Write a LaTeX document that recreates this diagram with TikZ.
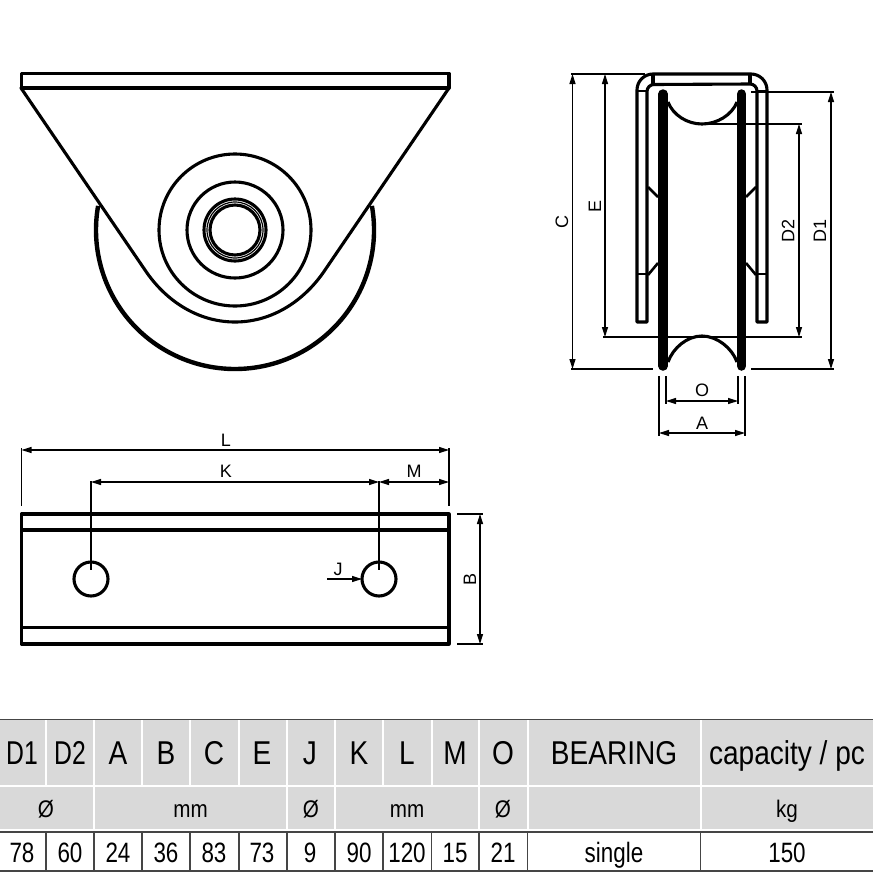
\documentclass[tikz,border=0pt]{standalone}
\usepackage{fontspec}
\setmainfont{Liberation Sans}
\newfontfamily\hdrfont[FakeStretch=0.85]{Liberation Sans}
\newfontfamily\hdrnarrow[FakeStretch=0.75]{Liberation Sans}
\newfontfamily\valfont[FakeStretch=0.8]{Liberation Sans}
\newfontfamily\subfont[FakeStretch=0.86]{Liberation Sans}
\usetikzlibrary{arrows.meta}
\definecolor{cellgray}{HTML}{D9D9D9}
\definecolor{rulegray}{HTML}{454545}
\tikzset{
  part/.style={line width=3.1pt,line join=round},
  thinpart/.style={line width=2.6pt,line join=round},
  tyre/.style={line width=9.5pt,line cap=round},
  dimline/.style={line width=1.2pt,{Triangle[length=10pt,width=6pt]}-{Triangle[length=10pt,width=6pt]}},
  leadline/.style={line width=1.2pt,-{Triangle[length=10pt,width=6pt]}},
  extline/.style={line width=1.2pt},
  dimtext/.style={inner sep=0pt,font=\fontsize{18}{18}\selectfont},
  hdr/.style={anchor=base,inner sep=0pt,font=\hdrfont\fontsize{33}{33}\selectfont},
  hdrn/.style={anchor=base,inner sep=0pt,font=\hdrnarrow\fontsize{33}{33}\selectfont},
  sub/.style={anchor=base,inner sep=0pt,font=\subfont\fontsize{24}{24}\selectfont},
  val/.style={anchor=base,inner sep=0pt,font=\valfont\fontsize{28}{28}\selectfont},
  sep/.style={white,line width=2pt},
  rule/.style={rulegray,line width=1.3pt}
}
\begin{document}
\begin{tikzpicture}[x=1pt,y=-1pt]
\useasboundingbox (0,0) rectangle (873,873);
% ---------- front view
\coordinate (hub) at (235,230);
\draw[line width=4.4pt] ([shift={(-10:139)}]hub) arc[start angle=-10,end angle=190,radius=139];
\filldraw[part,fill=white] (21,88) -- (145,270) .. controls (165,300) and (197,322) .. (235,322)
  .. controls (273,322) and (305,300) .. (325,270) -- (449,88) -- cycle;
\draw[part] (21.5,73.5) rectangle (449,88);
\draw[part] (hub) circle[radius=76];
\draw[part] (hub) circle[radius=48];
\draw[part] (hub) circle[radius=31];
\draw[line width=1.2pt] (hub) circle[radius=28];
\draw[part] (hub) circle[radius=25];
% ---------- side view: bracket
\draw[part] (647,322) -- (637,322) -- (637,90) arc[start angle=180,end angle=270,radius=16] -- (751,74)
  arc[start angle=270,end angle=360,radius=16] -- (767,322) -- (757,322) -- (757,91)
  arc[start angle=0,end angle=-90,radius=7] -- (654,84.5)
  arc[start angle=270,end angle=180,radius=7] -- cycle;
\draw[part] (653,74) -- (653,84.5);
\draw[part] (750,74) -- (750,84.5);
\draw[thinpart] (637,91) -- (647,91);
\draw[thinpart] (757,91) -- (767,91);
\draw[thinpart] (637,274) -- (647,274);
\draw[thinpart] (757,274) -- (767,274);
\draw[thinpart] (648,187) -- (658,197);
\draw[thinpart] (756,187) -- (746,197);
\draw[thinpart] (648,275) -- (658,263);
\draw[thinpart] (756,275) -- (746,263);
% side view: wheel
\draw[part] (668,102) .. controls (673,115) and (687,124) .. (702,124) .. controls (717,124) and (732,115) .. (737,102);
\draw[part] (668,362) .. controls (673,348) and (687,336) .. (702,336) .. controls (717,336) and (732,348) .. (737,362);
\draw[tyre] (663,94) -- (663,366);
\draw[tyre] (741.5,94) -- (741.5,366);
% side view: dimensions
\draw[extline] (571,74) -- (645,74);
\draw[extline] (571,369) -- (653,369);
\draw[extline] (603,337) -- (802,337);
\draw[extline] (751,92) -- (834,92);
\draw[extline] (751,369) -- (834,369);
\draw[extline] (700,124) -- (802,124);
\draw[extline] (666,376) -- (666,404);
\draw[extline] (738,376) -- (738,404);
\draw[extline] (659,376) -- (659,436);
\draw[extline] (745,376) -- (745,436);
\draw[dimline] (572.5,74) -- (572.5,369);
\draw[dimline] (605,74) -- (605,337);
\draw[dimline] (799,124) -- (799,337);
\draw[dimline] (831,92) -- (831,369);
\draw[dimline] (666,401) -- (738,401);
\draw[dimline] (659,433) -- (745,433);
\node[dimtext,rotate=90] (lblC) at (562,222) {C};
\node[dimtext,rotate=90] (lblE) at (595,206) {E};
\node[dimtext,rotate=90] (lblDtwo) at (788,231) {D2};
\node[dimtext,rotate=90] (lblDone) at (820,231) {D1};
\node[dimtext] (lblO) at (702,390) {O};
\node[dimtext] (lblA) at (702,423) {A};
% ---------- plan view
\draw[part] (21.5,514) rectangle (449,644);
\draw[part] (21.5,530) -- (449,530);
\draw[part] (21.5,627.5) -- (449,627.5);
\draw[part] (91,579) circle[radius=17];
\draw[part] (379,579) circle[radius=17];
\draw[extline] (21.5,448) -- (21.5,506);
\draw[extline] (449,448) -- (449,506);
\draw[extline] (91,481) -- (91,570);
\draw[extline] (379,481) -- (379,570);
\draw[extline] (457,514) -- (483,514);
\draw[extline] (457,644) -- (483,644);
\draw[dimline] (21.5,450) -- (449,450);
\draw[dimline] (91,482) -- (379,482);
\draw[dimline] (379,482) -- (449,482);
\draw[dimline] (480,514) -- (480,644);
\draw[leadline] (327,579) -- (362,579);
\node[dimtext] (lblL) at (226,440) {L};
\node[dimtext] (lblK) at (226,471) {K};
\node[dimtext] (lblM) at (414,471) {M};
\node[dimtext] (lblJ) at (338,569) {J};
\node[dimtext,rotate=90] (lblB) at (470,579) {B};
% ---------- table
\fill[cellgray] (0,720) rectangle (873,829);
\draw[rule] (0,719.5) -- (873,719.5);
\draw[sep] (0,786) -- (873,786);
\draw[white,line width=1.6pt] (0,830.5) -- (873,830.5);
\foreach \cx in {46,94,142,190,239,287,335,383,431.5,479,527.5,700.5}
  \draw[sep] (\cx,720) -- (\cx,785);
\foreach \cx in {94,287,335,479,527.5,700.5}
  \draw[sep] (\cx,787) -- (\cx,829);
\draw[rule] (0,871) -- (873,871);
\draw[rule] (0,832) -- (873,832);
\foreach \cx in {46,94,142,190,239,287,335,383,431.5,479,527.5,700.5}
  \draw[rule] (\cx,831) -- (\cx,871);
% header row
\node[hdrn] (hDone) at (22,764) {D1};
\node[hdrn] (hDtwo) at (70,764) {D2};
\node[hdr] (hA) at (118,764) {A};
\node[hdr] (hB) at (166,764) {B};
\node[hdr] (hC) at (214,764) {C};
\node[hdr] (hE) at (262,764) {E};
\node[hdr] (hJ) at (310,764) {J};
\node[hdr] (hK) at (359,764) {K};
\node[hdr] (hL) at (407,764) {L};
\node[hdr] (hM) at (455,764) {M};
\node[hdr] (hO) at (503,764) {O};
\node[hdr] (hBearing) at (614,764) {BEARING};
\node[hdr] (hCapacity) at (787,764) {capacity / pc};
% unit row
\node[sub] (uA) at (46,817) {Ø};
\node[sub] (uB) at (190.5,817) {mm};
\node[sub] (uC) at (311,817) {Ø};
\node[sub] (uD) at (407,817) {mm};
\node[sub] (uE) at (503,817) {Ø};
\node[sub] (uF) at (787,817) {kg};
% value row
\node[val] (vA) at (22,862) {78};
\node[val] (vB) at (70,862) {60};
\node[val] (vC) at (118,862) {24};
\node[val] (vD) at (166,862) {36};
\node[val] (vE) at (214,862) {83};
\node[val] (vF) at (262,862) {73};
\node[val] (vG) at (310,862) {9};
\node[val] (vH) at (359,862) {90};
\node[val] (vI) at (407,862) {120};
\node[val] (vJ) at (455,862) {15};
\node[val] (vK) at (503,862) {21};
\node[val] (vL) at (614,862) {single};
\node[val] (vM) at (787,862) {150};
\end{tikzpicture}
\end{document}
